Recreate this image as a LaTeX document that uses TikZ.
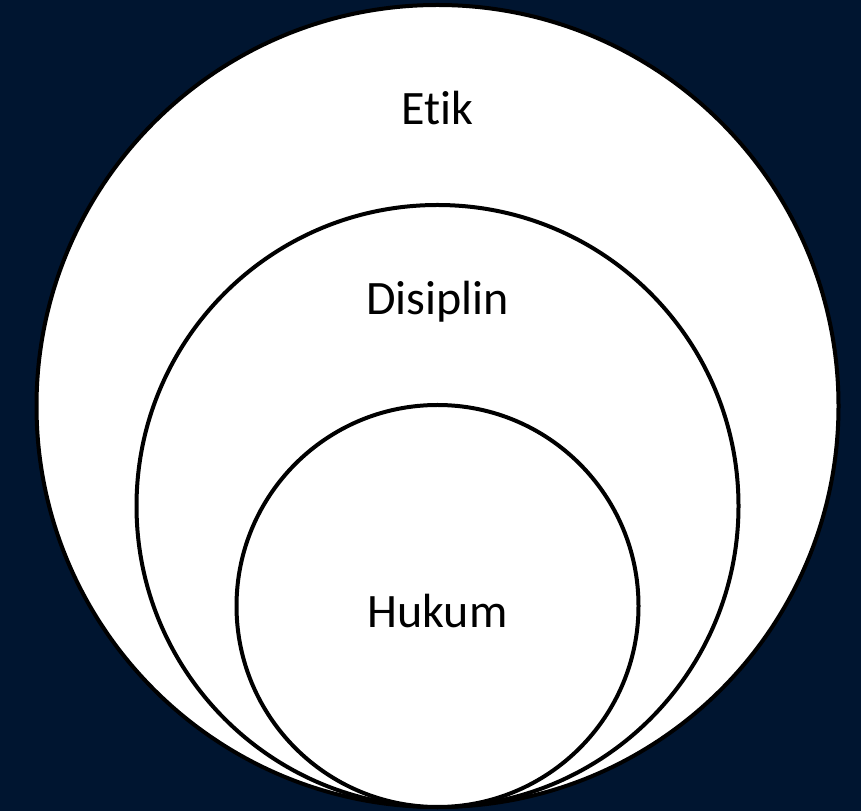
\documentclass[tikz,border=0pt]{standalone}
\usepackage{fontspec}
\setmainfont[Ligatures=NoCommon]{Carlito}
\definecolor{navy}{HTML}{001530}
\tikzset{
  ring/.style={draw=black,fill=white,circle,line width=4pt,inner sep=0pt},
  lbl/.style={font=\fontsize{48}{58}\selectfont,text=black}
}
\begin{document}
\begin{tikzpicture}[x=1pt,y=1pt]
\fill[navy] (0,0) rectangle (861,811);
\useasboundingbox (0,0) rectangle (861,811);
% nested circles, all touching at the bottom
\node[ring,minimum size=802pt] (etikring) at (437.5,405) {};
\node[ring,minimum size=602pt] (disiplinring) at (437.5,305) {};
\node[ring,minimum size=402pt] (hukumring) at (437.5,205) {};
\node[lbl] (etik) at (437.5,703) {Etik};
\node[lbl] (disiplin) at (437.5,509) {Disiplin};
\node[lbl] (hukum) at (437.5,200) {Hukum};
\end{tikzpicture}
\end{document}
